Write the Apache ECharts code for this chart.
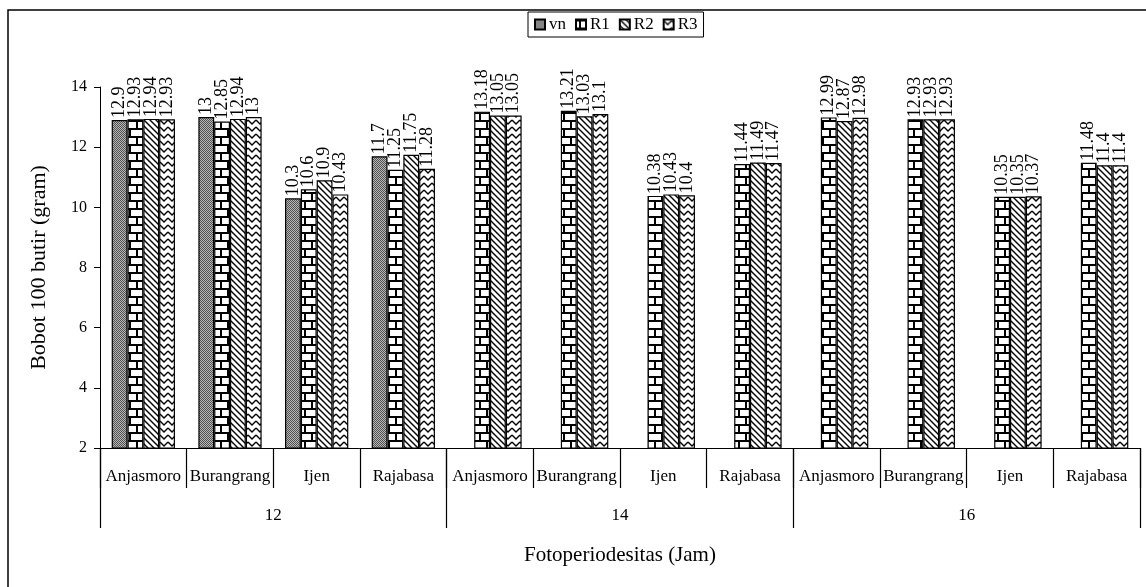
<!DOCTYPE html>
<html>
<head>
<meta charset="utf-8">
<script src="https://cdn.jsdelivr.net/npm/echarts@6/dist/echarts.min.js"></script>
<style>
  html, body { margin: 0; padding: 0; background: #fff; }
  #chart { width: 1146px; height: 587px; }
</style>
</head>
<body>
<div id="chart"></div>
<script>
// Varieties inside each photoperiod group, and the photoperiod groups (hours)
const varieties = ['Anjasmoro', 'Burangrang', 'Ijen', 'Rajabasa'];
const photoperiods = ['12', '14', '16'];
const categories = photoperiods.flatMap(() => varieties);

// 100-seed weight (gram), ordered 12 h (4 varieties), 14 h, 16 h
const vn = [12.9, 13, 10.3, 11.7, null, null, null, null, null, null, null, null];
const r1 = [12.93, 12.85, 10.6, 11.25, 13.18, 13.21, 10.38, 11.44, 12.99, 12.93, 10.35, 11.48];
const r2 = [12.94, 12.94, 10.9, 11.75, 13.05, 13.03, 10.43, 11.49, 12.87, 12.93, 10.35, 11.4];
const r3 = [12.93, 13, 10.43, 11.28, 13.05, 13.1, 10.4, 11.47, 12.98, 12.93, 10.37, 11.4];

const yTicks = { min: 2, max: 14, step: 2 };

const FONT = '"Liberation Serif", "Times New Roman", serif';

// ---- fill patterns (drawn once onto small canvases) ----
function tile(w, h, draw) {
  const c = document.createElement('canvas');
  c.width = w; c.height = h;
  const ctx = c.getContext('2d');
  ctx.fillStyle = '#fff';
  ctx.fillRect(0, 0, w, h);
  draw(ctx, w, h);
  return { image: c, repeat: 'repeat' };
}

// fine grey dither
const dotPattern = tile(2, 2, (ctx) => {
  ctx.fillStyle = '#b8b8b8'; ctx.fillRect(0, 0, 2, 2);
  ctx.fillStyle = '#505050'; ctx.fillRect(0, 0, 1, 1); ctx.fillRect(1, 1, 1, 1);
});

// brick wall
const brickPattern = tile(14, 16, (ctx) => {
  ctx.fillStyle = '#000';
  ctx.fillRect(0, 0, 14, 2);
  ctx.fillRect(0, 8, 14, 2);
  ctx.fillRect(3, 0, 2, 8);
  ctx.fillRect(10, 8, 2, 8);
});

// wide downward diagonal
const diagPattern = tile(6, 6, (ctx) => {
  ctx.strokeStyle = '#000';
  ctx.lineWidth = 1.4;
  ctx.beginPath();
  ctx.moveTo(-1, -1); ctx.lineTo(7, 7);
  ctx.moveTo(-1, 5); ctx.lineTo(1, 7);
  ctx.moveTo(5, -1); ctx.lineTo(7, 1);
  ctx.stroke();
});

// zigzag
const zigPattern = tile(8, 7, (ctx) => {
  ctx.strokeStyle = '#000';
  ctx.lineWidth = 1.4;
  ctx.beginPath();
  ctx.moveTo(0, 1); ctx.lineTo(4, 5); ctx.lineTo(8, 1);
  ctx.stroke();
});

function barSeries(name, data, pattern) {
  return {
    name: name,
    type: 'bar',
    data: data,
    barGap: '0%',
    barCategoryGap: '27%',
    itemStyle: { color: pattern, borderColor: '#000', borderWidth: 1.2 },
    label: {
      show: true,
      position: 'top',
      rotate: 90,
      align: 'left',
      verticalAlign: 'middle',
      distance: 2,
      color: '#000',
      fontFamily: FONT,
      fontSize: 18,
      formatter: (p) => (p.value == null ? '' : String(p.value))
    }
  };
}

const chart = echarts.init(document.getElementById('chart'), null, { renderer: 'canvas' });

chart.setOption({
  animation: false,
  backgroundColor: '#fff',
  textStyle: { fontFamily: FONT, color: '#000' },
  graphic: [{
    type: 'rect',
    shape: { x: 8, y: 10, width: 1300, height: 700 },
    style: { fill: 'none', stroke: '#000', lineWidth: 1.5 },
    silent: true
  }],
  legend: {
    data: ['vn', 'R1', 'R2', 'R3'],
    left: 528,
    top: 12,
    icon: 'rect',
    itemWidth: 10,
    itemHeight: 10,
    itemGap: 9,
    padding: [4, 6, 4, 6],
    borderColor: '#000',
    borderWidth: 1,
    textStyle: { fontFamily: FONT, fontSize: 17, color: '#000', padding: [0, 0, 0, -1] }
  },
  grid: { left: 100, right: 6, top: 87, bottom: 139, containLabel: false },
  xAxis: [
    {
      type: 'category',
      data: categories,
      position: 'bottom',
      name: 'Fotoperiodesitas (Jam)',
      nameLocation: 'middle',
      nameGap: 97,
      nameTextStyle: { fontFamily: FONT, fontSize: 21, color: '#000' },
      axisLine: { show: true, lineStyle: { color: '#000', width: 1 } },
      axisTick: { show: true, interval: 0, length: 40, lineStyle: { color: '#000', width: 1.2 } },
      axisLabel: { interval: 0, margin: 20, fontFamily: FONT, fontSize: 17, color: '#000' },
      splitLine: { show: false }
    },
    {
      type: 'category',
      data: photoperiods,
      position: 'bottom',
      axisLine: { show: false },
      axisTick: { show: true, interval: 0, length: 80, lineStyle: { color: '#000', width: 1.2 } },
      axisLabel: { interval: 0, margin: 59, fontFamily: FONT, fontSize: 17, color: '#000' },
      splitLine: { show: false }
    }
  ],
  yAxis: {
    type: 'value',
    min: yTicks.min,
    max: yTicks.max,
    interval: yTicks.step,
    name: 'Bobot 100 butir (gram)',
    nameLocation: 'middle',
    nameGap: 50,
    nameTextStyle: { fontFamily: FONT, fontSize: 22, color: '#000', padding: [0, 0, 0, 0] },
    axisLine: { show: true, lineStyle: { color: '#000', width: 1 } },
    axisTick: { show: true, length: 6, lineStyle: { color: '#000' } },
    axisLabel: { margin: 13, fontFamily: FONT, fontSize: 16, color: '#000' },
    splitLine: { show: false }
  },
  series: [
    barSeries('vn', vn, dotPattern),
    barSeries('R1', r1, brickPattern),
    barSeries('R2', r2, diagPattern),
    barSeries('R3', r3, zigPattern)
  ]
});
</script>
</body>
</html>
